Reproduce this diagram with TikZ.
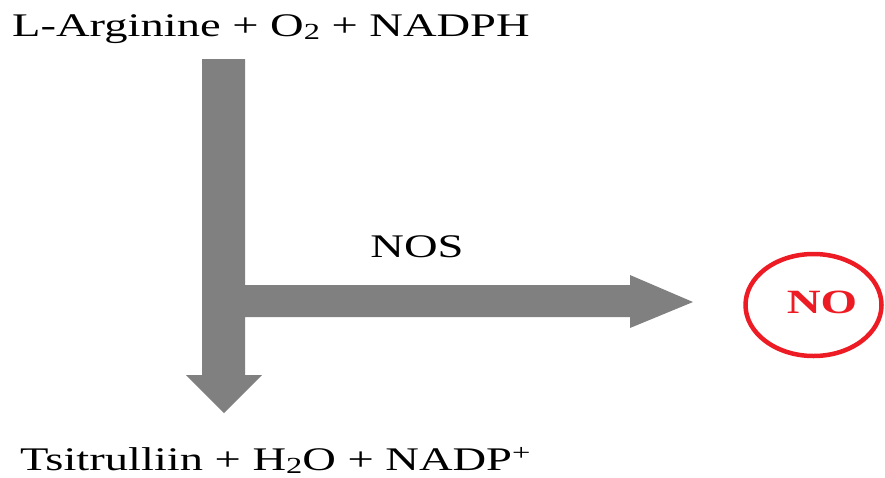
\documentclass[tikz,border=0pt]{standalone}
\usepackage{fontspec}
\setmainfont{Liberation Serif}
\newfontfamily\widefont[FakeStretch=1.41]{Liberation Serif}
\newfontfamily\nofont[FakeStretch=1.38]{Liberation Serif}
\newcommand{\mysubtwo}{\raisebox{-3pt}{\fontsize{23}{23}\selectfont 2}}
\definecolor{arrowgray}{HTML}{808080}
\definecolor{nored}{HTML}{ED1C24}
\begin{document}
\begin{tikzpicture}[x=1pt,y=-1pt,
  lbl/.style={inner sep=0pt, font=\widefont\fontsize{33}{36}\selectfont},
  nolbl/.style={inner sep=0pt, text=nored, font=\nofont\fontsize{34}{36}\selectfont\bfseries}]
\useasboundingbox (0,0) rectangle (885,477);
\fill[arrowgray] (202,59) -- (245,59) -- (245,285) -- (630,285) -- (630,275)
  -- (693,302) -- (630,328) -- (630,317) -- (245,317) -- (245,375) -- (262,375)
  -- (224,413) -- (186,375) -- (202,375) -- cycle;
\node[lbl, anchor=base west] (top) at (12,36) {L-Arginine + O\mysubtwo{} + NADPH};
\node[lbl, anchor=base west, text depth=2pt] (bot) at (20,470) {Tsitrulliin + H\mysubtwo{}O + NADP\textsuperscript{+}};
\node[lbl, anchor=base] (nos) at (417,257) {NOS};
\draw[nored, line width=4.5pt] (813.5,305) ellipse [x radius=68, y radius=51];
\node[nolbl, anchor=base] (no) at (822,313) {NO};
\end{tikzpicture}
\end{document}
